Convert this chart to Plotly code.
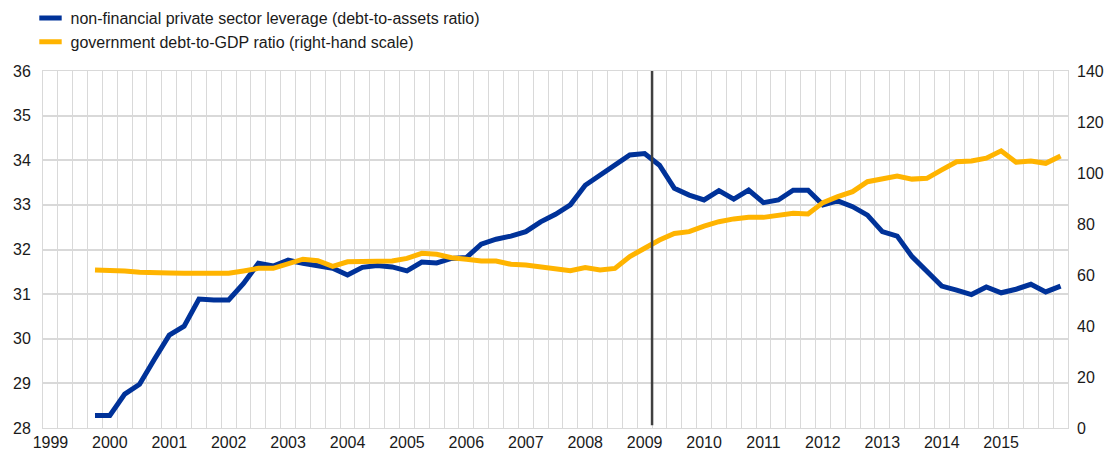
import plotly.graph_objects as go

# Quarterly categories: index 0 = 1999 Q1 ... 68 = 2016 Q1
year_labels = [str(y) for y in range(1999, 2016)]
tick_positions = [4 * i for i in range(len(year_labels))]
n_categories = 69
first_index = 3  # data start 1999 Q4

leverage = [28.28, 28.28, 28.76, 28.98, 29.54, 30.08, 30.28, 30.89, 30.87, 30.87,
            31.24, 31.69, 31.63, 31.76, 31.69, 31.64, 31.58, 31.43, 31.60, 31.64,
            31.61, 31.52, 31.72, 31.70, 31.80, 31.82, 32.12, 32.23, 32.30, 32.40,
            32.62, 32.79, 33.00, 33.44, 33.67, 33.89, 34.12, 34.15, 33.89, 33.37,
            33.22, 33.11, 33.32, 33.13, 33.33, 33.05, 33.11, 33.33, 33.33, 33.00,
            33.09, 32.96, 32.77, 32.40, 32.30, 31.84, 31.50, 31.18, 31.09, 30.99,
            31.16, 31.03, 31.11, 31.22, 31.05, 31.18]

gov_debt = [62.0, 62.0, 61.6, 61.1, 60.8, 60.8, 60.7, 60.7, 60.3, 60.7,
            61.6, 62.6, 62.6, 64.6, 66.2, 65.6, 63.4, 65.2, 65.2, 65.6,
            65.5, 66.5, 68.5, 68.1, 66.8, 66.2, 65.5, 65.5, 64.2, 63.9,
            63.0, 62.4, 61.7, 62.9, 62.0, 62.6, 67.2, 70.5, 73.7, 76.3,
            77.0, 79.2, 80.9, 82.0, 82.6, 82.6, 83.5, 84.2, 83.9, 88.4,
            90.7, 92.7, 96.6, 97.9, 98.8, 97.6, 97.9, 101.2, 104.4, 104.7,
            105.8, 108.7, 104.2, 104.7, 103.8, 106.7]

marker_position = 40.5  # between 2009 Q1 and 2009 Q2

x = list(range(first_index, first_index + len(leverage)))

BLUE = "#003299"
YELLOW = "#FFB400"
GRID = "#d9d9d9"
TXT = "#1a1a1a"
FONT = "Liberation Sans, Arial, sans-serif"

fig = go.Figure()
fig.add_trace(go.Scatter(x=x, y=leverage, mode="lines", line=dict(color=BLUE, width=5),
                         showlegend=False, yaxis="y"))
fig.add_trace(go.Scatter(x=x, y=gov_debt, mode="lines", line=dict(color=YELLOW, width=5),
                         showlegend=False, yaxis="y2"))
# legend entries
fig.add_trace(go.Scatter(x=[None], y=[None], mode="markers", name="non-financial private sector leverage (debt-to-assets ratio)",
                         marker=dict(symbol="line-ew", size=16, line=dict(color=BLUE, width=5))))
fig.add_trace(go.Scatter(x=[None], y=[None], mode="markers", name="government debt-to-GDP ratio (right-hand scale)",
                         marker=dict(symbol="line-ew", size=16, line=dict(color=YELLOW, width=5))))

fig.add_shape(type="line", xref="x", yref="paper", x0=marker_position, x1=marker_position,
              y0=0.008, y1=1, line=dict(color="#404040", width=2.5))

fig.update_layout(
    width=1111, height=455,
    margin=dict(l=43, r=43, t=71, b=27, autoexpand=False),
    plot_bgcolor="white", paper_bgcolor="white",
    font=dict(family=FONT, size=16, color=TXT),
    legend=dict(x=-0.0122, y=1.196, xanchor="left", yanchor="top",
                font=dict(size=16, color=TXT), itemsizing="trace", tracegroupgap=0,
                bgcolor="rgba(0,0,0,0)"),
    xaxis=dict(range=[-0.5, n_categories - 0.5], tickmode="array", tickvals=tick_positions,
               ticktext=year_labels, showgrid=False, ticks="", zeroline=False,
               showline=True, linecolor=GRID, linewidth=1, mirror=True,
               minor=dict(tick0=-0.5, dtick=1, showgrid=True, gridcolor=GRID, gridwidth=1, ticks=""),
               tickfont=dict(size=16, color=TXT)),
    yaxis=dict(range=[28, 36], dtick=1, showgrid=True, gridcolor=GRID, gridwidth=1.5,
               zeroline=False, ticks="", showline=True, linecolor=GRID, mirror=True,
               tickfont=dict(size=16, color=TXT), ticklabelstandoff=8),
    yaxis2=dict(range=[0, 140], dtick=20, overlaying="y", side="right", showgrid=False,
                zeroline=False, ticks="", tickfont=dict(size=16, color=TXT), ticklabelstandoff=8),
)

fig.write_html("out.html", config={"displayModeBar": False},
               post_script="document.body.style.margin='0';document.body.style.overflow='hidden';")
